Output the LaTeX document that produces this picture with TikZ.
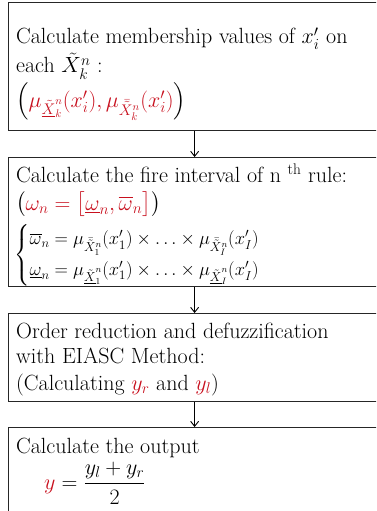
\RequirePackage{fix-cm}
\documentclass[tikz,border=0pt]{standalone}
\usepackage{amsmath}
\usetikzlibrary{arrows.meta}
\definecolor{myred}{RGB}{200,16,30}
\begin{document}
\begin{tikzpicture}[x=1pt,y=1pt,
  stepbox/.style={draw=black!85, line width=1.2pt, rectangle, inner sep=0pt, minimum width=372pt, anchor=north west},
  txt/.style={anchor=base west, inner sep=0pt, font=\fontsize{22}{26}\selectfont},
  mtxt/.style={anchor=base west, inner sep=0pt, font=\fontsize{18.5}{22}\selectfont},
  arr/.style={line width=0.9pt, -{Straight Barb[length=5pt,width=8pt]}}]
\useasboundingbox (0,0) rectangle (376,-511);
\clip (0,0) rectangle (376,-511);
\node[stepbox, minimum height=128pt] (b1) at (8,-2) {};
\node[stepbox, minimum height=129pt] (b2) at (8,-157) {};
\node[stepbox, minimum height=88pt] (b3) at (8,-313) {};
\node[stepbox, minimum height=100pt] (b4) at (8,-427) {};
\draw[arr] (b1.south) -- (b2.north);
\draw[arr] (b2.south) -- (b3.north);
\draw[arr] (b3.south) -- (b4.north);
% box 1
\node[txt] (t11) at (16,-44) {Calculate membership values of $x_i'$ on};
\node[txt] (t12) at (16,-73) {each $\tilde{X}_k^n$ :};
\node[txt] (t13) at (16,-107) {$\Bigl(\color{myred}\mu_{\underline{\tilde{X}}_k^n}(x_i'),\mu_{\bar{\tilde{X}}_k^n}(x_i')\color{black}\Bigr)$};
% box 2
\node[txt] (t21) at (16,-182) {Calculate the fire interval of n \textsuperscript{th} rule:};
\node[txt] (t22) at (16,-210) {$\bigl(\color{myred}\omega_n=\bigl[\underline{\omega}_n,\overline{\omega}_n\bigr]\color{black}\bigr)$};
\node[mtxt] (t23) at (14,-260) {$\begin{cases}\overline{\omega}_n=\mu_{\bar{\tilde{X}}_1^n}(x_1')\times\ldots\times\mu_{\bar{\tilde{X}}_I^n}(x_I')\\[4pt]
\underline{\omega}_n=\mu_{\underline{\tilde{X}}_1^n}(x_1')\times\ldots\times\mu_{\underline{\tilde{X}}_I^n}(x_I')\end{cases}$};
% box 3
\node[txt] (t31) at (16,-338) {Order reduction and defuzzification};
\node[txt] (t32) at (16,-363) {with EIASC Method:};
\node[txt] (t33) at (16,-390) {(Calculating {\color{myred}$y_r$} and {\color{myred}$y_l$})};
% box 4
\node[txt] (t41) at (16,-453) {Calculate the output};
\node[txt] (t42) at (44,-489) {${\color{myred}y}=\dfrac{y_l+y_r}{2}$};
\end{tikzpicture}
\end{document}
